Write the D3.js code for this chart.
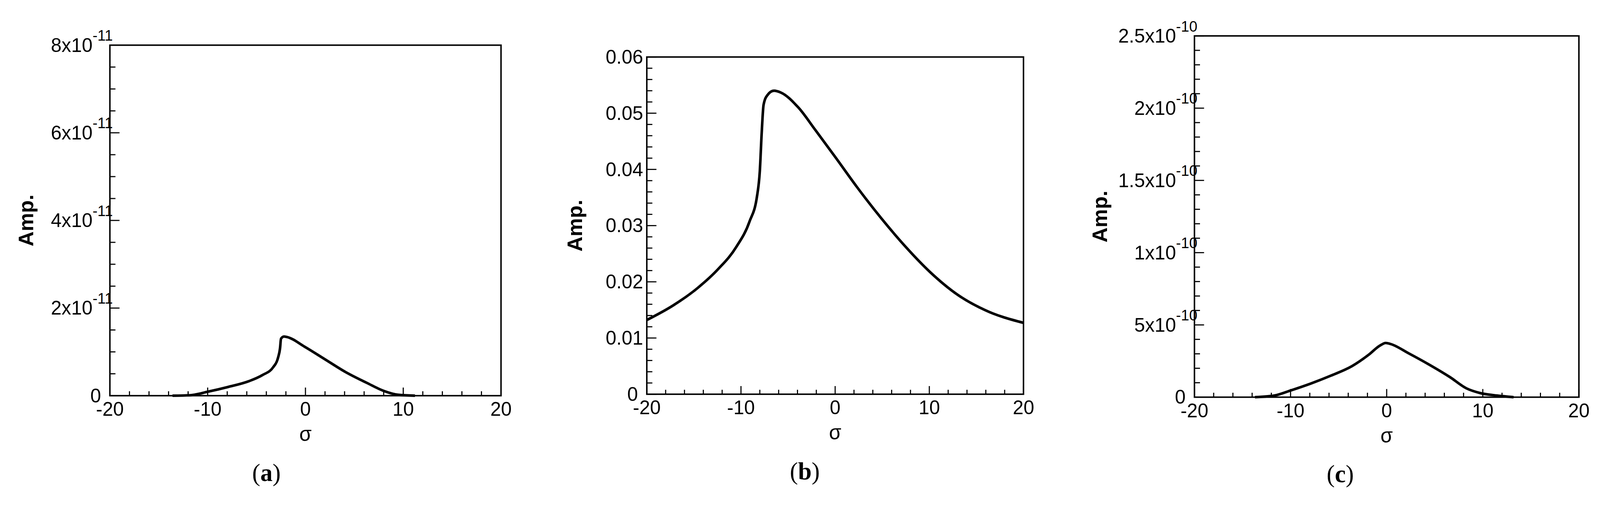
<!DOCTYPE html>
<html>
<head>
<script src="https://d3js.org/d3.v7.min.js"></script>
<style>
  html, body { margin: 0; padding: 0; background: #fff; overflow: hidden; }
  svg { display: block; }
  text { font-family: "Liberation Sans", Arial, sans-serif; fill: #000; }
  .curve { fill: none; stroke: #000; stroke-width: 7px; stroke-linejoin: round; }
</style>
</head>
<body>
<svg id="chart" width="100%" height="100vh" viewBox="0 0 4324 1341" preserveAspectRatio="xMinYMin meet"></svg>
<script>
// Panel (a): amplitude x1e-11
var sigmaA = [-13.6, -11.8, -10, -7.9, -5.8, -4.4, -3.3, -2.8, -2.6, -2.5, -2.2, -1.9, -0.1, 2.0, 4.1, 6.3, 8.0, 9.5, 11.2];
var ampA   = [0, 0.01, 0.09, 0.2, 0.33, 0.47, 0.65, 0.87, 1.08, 1.3, 1.35, 1.34, 1.12, 0.83, 0.54, 0.29, 0.11, 0.02, 0];
// Panel (b): amplitude
var sigmaB = [-20, -17.2, -14.6, -12.4, -10.5, -9.1, -8.3, -8.0, -7.8, -7.6, -7.2, -6.5, -5.8, -3.9, -2.1, 0.1, 2.3, 4.9, 7.5, 10.1, 13.0, 16.0, 20];
var ampB   = [0.0132, 0.0158, 0.0189, 0.0223, 0.0262, 0.0307, 0.0352, 0.0397, 0.0465, 0.0515, 0.0532, 0.0540, 0.0537, 0.0510, 0.0470, 0.0420, 0.0369, 0.0313, 0.0262, 0.0217, 0.0177, 0.0149, 0.0127];
// Panel (c): amplitude x1e-10
var sigmaC = [-13.7, -11.7, -10.0, -7.9, -5.8, -3.6, -1.9, -0.7, -0.1, 0.4, 2.3, 4.4, 6.6, 8.3, 9.7, 11.5, 13.2];
var ampC   = [0, 0.011, 0.046, 0.094, 0.149, 0.215, 0.292, 0.357, 0.375, 0.368, 0.303, 0.226, 0.138, 0.061, 0.029, 0.011, 0];

var xTicks = [-20, -10, 0, 10, 20];
var yTicksA = [0, 2, 4, 6, 8],   yLabelsA = ["0", "2", "4", "6", "8"];
var yTicksB = [0, 0.01, 0.02, 0.03, 0.04, 0.05, 0.06], yLabelsB = ["0", "0.01", "0.02", "0.03", "0.04", "0.05", "0.06"];
var yTicksC = [0, 0.5, 1, 1.5, 2, 2.5], yLabelsC = ["0", "5", "1", "1.5", "2", "2.5"];

var panels = [
  {sx: sigmaA, sy: ampA, box: [297, 1354, 122, 1069], ymax: 8, yt: yTicksA, yl: yLabelsA, ystep: 0.5, exp: "-11", cap: "a", capX: 720, ampX: 70},
  {sx: sigmaB, sy: ampB, box: [1748, 2766, 154, 1065], ymax: 0.06, yt: yTicksB, yl: yLabelsB, ystep: 0.002, exp: null, cap: "b", capX: 2175, ampX: 1553},
  {sx: sigmaC, sy: ampC, box: [3228, 4267, 97, 1073], ymax: 2.5, yt: yTicksC, yl: yLabelsC, ystep: 0.1, exp: "-10", cap: "c", capX: 3622, ampX: 2972}
];

var svg = d3.select("#chart");

panels.forEach(function(p) {
  var x = d3.scaleLinear().domain([-20, 20]).range([p.box[0], p.box[1]]);
  var y = d3.scaleLinear().domain([0, p.ymax]).range([p.box[3], p.box[2]]);
  var g = svg.append("g");

  // minor + major ticks, pointing inward
  var xMinor = d3.range(-20, 20.001, 2);
  g.selectAll(".xt").data(xMinor).enter().append("line")
    .attr("x1", d => x(d)).attr("x2", d => x(d))
    .attr("y1", y(0)).attr("y2", d => y(0) - (d % 10 === 0 ? 22 : 12))
    .attr("stroke", "#000").attr("stroke-width", 3);
  var nY = Math.round(p.ymax / p.ystep);
  var yMinor = d3.range(0, nY + 1).map(i => i * p.ystep);
  var isMajor = v => p.yt.some(t => Math.abs(t - v) < p.ystep / 10);
  g.selectAll(".yt").data(yMinor).enter().append("line")
    .attr("x1", x(-20)).attr("x2", d => x(-20) + (isMajor(d) ? 26 : 15))
    .attr("y1", d => y(d)).attr("y2", d => y(d))
    .attr("stroke", "#000").attr("stroke-width", 3);

  // frame
  g.append("rect")
    .attr("x", p.box[0]).attr("y", p.box[2])
    .attr("width", p.box[1] - p.box[0]).attr("height", p.box[3] - p.box[2])
    .attr("fill", "none").attr("stroke", "#000").attr("stroke-width", 4);

  // x tick labels
  g.selectAll(".xl").data(xTicks).enter().append("text")
    .attr("x", d => x(d)).attr("y", y(0) + 54)
    .attr("text-anchor", "middle").attr("font-size", 52)
    .text(d => d);

  // y tick labels
  p.yt.forEach(function(v, i) {
    var t = g.append("text").attr("text-anchor", "end").attr("font-size", 52)
      .attr("y", y(v) + 18);
    if (v === 0) {
      t.attr("x", x(-20) - 24).attr("y", y(v) + 18).text("0");
    } else if (p.exp) {
      t.attr("x", x(-20) + 8);
      t.append("tspan").text(p.yl[i] + "x10");
      t.append("tspan").attr("dy", -30).attr("font-size", 40).text(p.exp);
    } else {
      t.attr("x", x(-20) - 10).text(p.yl[i]);
    }
  });

  // curve
  var pts = p.sx.map((s, i) => [s, p.sy[i]]);
  g.append("path").datum(pts).attr("class", "curve")
    .attr("d", d3.line().x(d => x(d[0])).y(d => y(d[1])).curve(d3.curveMonotoneX));

  // axis titles
  g.append("text").attr("x", (p.box[0] + p.box[1]) / 2).attr("y", p.box[3] + 122)
    .attr("text-anchor", "middle").attr("font-size", 54).text("σ");
  g.append("text")
    .attr("transform", "translate(" + (p.ampX + 20) + "," + ((p.box[2] + p.box[3]) / 2) + ") rotate(-90)")
    .attr("text-anchor", "middle").attr("font-size", 56).attr("font-weight", "bold").text("Amp.");

  // caption
  var c = g.append("text").attr("x", p.capX).attr("y", p.box[3] + 230)
    .attr("text-anchor", "middle").attr("font-size", 66)
    .style("font-family", "'Liberation Serif', 'Times New Roman', serif");
  c.append("tspan").text("(");
  c.append("tspan").attr("font-weight", "bold").text(p.cap);
  c.append("tspan").text(")");
});
</script>
</body>
</html>
